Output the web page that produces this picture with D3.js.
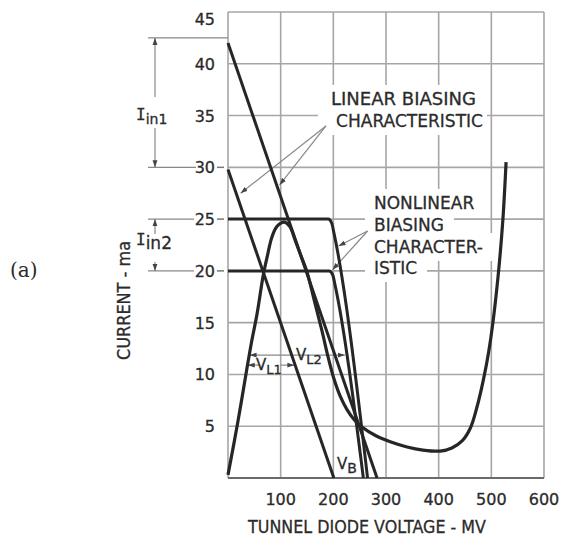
<!DOCTYPE html>
<html>
<head>
<meta charset="utf-8">
<script src="https://cdn.jsdelivr.net/npm/d3@7"></script>
<style>
body { margin: 0; background: #fff; }
svg { display: block; }
text { fill: #2b2b2b; stroke: #2b2b2b; stroke-width: 0.3px; }
</style>
</head>
<body>
<div id="chart"></div>
<script>
// values (mV, mA)
var xTicks = [100, 200, 300, 400, 500, 600];
var yTicks = [5, 10, 15, 20, 25, 30, 35, 40, 45];

var diodeVoltage = [0, 19, 36, 45, 55, 67, 75, 83, 93, 107, 117, 128, 139, 150, 164, 178, 190, 201, 213, 226, 240, 255, 280, 308, 340, 370, 403, 425, 445, 460, 473, 485, 495, 503, 514, 522, 528];
var diodeCurrent = [0.3, 5.5, 10.6, 13.2, 15.8, 19.6, 21.5, 23.2, 24.3, 24.7, 24.3, 22.9, 21.4, 19.9, 17.1, 14.3, 11.7, 9.6, 7.9, 6.6, 5.6, 4.9, 4.1, 3.5, 3.0, 2.7, 2.6, 2.9, 3.6, 4.8, 6.9, 9.5, 12.2, 15, 20.1, 25, 30.5];

var linearHighV = [0, 283];
var linearHighI = [42, 0];
var linearLowV = [0, 201];
var linearLowI = [29.8, 0];

var nonlinHighV = [0, 190, 197, 201, 265];
var nonlinHighI = [25, 25, 24.6, 23.7, 0];
var nonlinLowV = [0, 192, 199, 203, 257];
var nonlinLowI = [20, 20, 19.6, 18.7, 0];

var svgWidth = 561;
var svgHeight = 541;
var sans = "'DejaVu Sans', sans-serif";

var svg = d3.select("#chart")
    .append("svg")
    .attr("width", svgWidth)
    .attr("height", svgHeight)
    .style("font-family", sans);

var x = d3.scaleLinear().domain([0, 600]).range([228, 544]);
var y = d3.scaleLinear().domain([0, 45]).range([478, 12]);

var defs = svg.append("defs");
defs.append("marker")
    .attr("id", "arrow")
    .attr("viewBox", "0 0 10 10")
    .attr("refX", 10)
    .attr("refY", 5)
    .attr("markerWidth", 7)
    .attr("markerHeight", 7)
    .attr("markerUnits", "userSpaceOnUse")
    .attr("orient", "auto-start-reverse")
    .append("path")
    .attr("d", "M0,1.5L10,5L0,8.5Z")
    .attr("fill", "#444");

//Grid
var grid = svg.append("g");
grid.selectAll(".vgrid")
    .data(xTicks)
    .enter()
    .append("line")
    .attr("x1", d => x(d)).attr("x2", d => x(d))
    .attr("y1", y(0)).attr("y2", y(45))
    .attr("stroke", "#a6a6a6")
    .attr("stroke-width", 1.6);
grid.selectAll(".hgrid")
    .data(yTicks)
    .enter()
    .append("line")
    .attr("x1", x(0)).attr("x2", x(600))
    .attr("y1", d => y(d)).attr("y2", d => y(d))
    .attr("stroke", "#a6a6a6")
    .attr("stroke-width", 1.6);
grid.append("line")
    .attr("x1", x(0)).attr("x2", x(0))
    .attr("y1", y(0)).attr("y2", y(45))
    .attr("stroke", "#a6a6a6").attr("stroke-width", 1.6);
grid.append("line")
    .attr("x1", x(0)).attr("x2", x(600))
    .attr("y1", y(0)).attr("y2", y(0))
    .attr("stroke", "#6a6a6a").attr("stroke-width", 2);

//Tick labels
svg.selectAll(".xlabel")
    .data(xTicks)
    .enter()
    .append("text")
    .attr("x", d => x(d))
    .attr("y", 505)
    .attr("text-anchor", "middle")
    .attr("font-size", "16px")
    .text(d => d);

svg.selectAll(".ylabel")
    .data(yTicks)
    .enter()
    .append("text")
    .attr("x", 215)
    .attr("y", d => d === 45 ? y(d) + 13 : y(d) + 6)
    .attr("text-anchor", "end")
    .attr("font-size", "16px")
    .text(d => d);

//little dashes after 30, 25, 20
svg.selectAll(".ytick")
    .data([30, 25, 20])
    .enter()
    .append("line")
    .attr("x1", 217).attr("x2", 224)
    .attr("y1", d => y(d)).attr("y2", d => y(d))
    .attr("stroke", "#777").attr("stroke-width", 1.5);

//Axis titles
svg.append("text")
    .attr("x", 248)
    .attr("y", 533)
    .attr("font-size", "17px")
    .attr("textLength", 238)
    .attr("lengthAdjust", "spacingAndGlyphs")
    .text("TUNNEL DIODE VOLTAGE - MV");

svg.append("text")
    .attr("transform", "translate(130, 360) rotate(-90)")
    .attr("font-size", "17px")
    .attr("textLength", 119)
    .attr("lengthAdjust", "spacingAndGlyphs")
    .text("CURRENT - ma");

svg.append("text")
    .attr("x", 10)
    .attr("y", 277)
    .style("font-family", "'DejaVu Serif', serif")
    .style("stroke-width", "0px")
    .attr("font-size", "20px")
    .text("(a)");

//Iin1 / Iin2 dimension lines left of the axis
var dimLines = [[42.5, 228], [30, 196], [25, 194], [20, 194]];
svg.selectAll(".dim")
    .data(dimLines)
    .enter()
    .append("line")
    .attr("x1", 148).attr("x2", d => d[1])
    .attr("y1", d => y(d[0])).attr("y2", d => y(d[0]))
    .attr("stroke", "#888").attr("stroke-width", 1.3);

function arrowLine(g, x1, y1, x2, y2, width) {
    return g.append("line")
        .attr("x1", x1).attr("y1", y1)
        .attr("x2", x2).attr("y2", y2)
        .attr("stroke", "#888")
        .attr("stroke-width", width || 1.2)
        .attr("marker-end", "url(#arrow)");
}

arrowLine(svg, 155, 97, 155, y(42.5));
arrowLine(svg, 155, 128, 155, y(30));
arrowLine(svg, 155, 234, 155, y(25));
arrowLine(svg, 155, 262, 155, y(20));

function subLabel(g, px, py, main, sub, mainSize, subSize, mainFont) {
    var t = g.append("text")
        .attr("x", px)
        .attr("y", py)
        .attr("font-size", mainSize + "px");
    t.append("tspan")
        .style("font-family", mainFont || sans)
        .text(main);
    t.append("tspan")
        .attr("font-size", subSize + "px")
        .attr("dy", 4)
        .text(sub);
    return t;
}

var mono = "'DejaVu Sans Mono', monospace";
subLabel(svg, 136, 120, "I", "in1", 16, 14, mono);
subLabel(svg, 136, 245, "I", "in2", 16, 17, mono);

//White boxes + annotation text blocks
var ann = svg.append("g");
function textBlock(lines, px, baselines, lens, padL, padR) {
    lines.forEach(function(s, k) {
        var t = ann.append("text")
            .attr("x", px[k])
            .attr("y", baselines[k])
            .attr("font-size", "17px")
            .text(s);
        if (lens) {
            t.attr("textLength", lens[k]).attr("lengthAdjust", "spacingAndGlyphs");
        }
        var b = t.node().getBBox();
        ann.insert("rect", "text")
            .attr("x", b.x - padL)
            .attr("y", b.y - 4)
            .attr("width", b.width + padL + padR)
            .attr("height", b.height + 8)
            .attr("fill", "#fff");
    });
}
textBlock(["LINEAR BIASING", "CHARACTERISTIC"], [331, 336], [105, 127], [145, 147], 18, 4);
textBlock(["NONLINEAR", "BIASING", "CHARACTER-", "ISTIC"], [374, 374, 374, 374], [209, 231, 253, 274], null, 9, 10);

//leader lines
var leaders = [
    [186, 34, 24, 27.5],
    [186, 34, 98, 28.3],
    [265, 23.85, 210, 22.4],
    [265, 23.85, 198.5, 20.1]
];
leaders.forEach(function(d) {
    arrowLine(svg, x(d[0]), y(d[1]), x(d[2]), y(d[3]), 1.2);
});

//VL1, VL2 spans
arrowLine(svg, x(130), y(11.87), x(41), y(11.87));
arrowLine(svg, x(130), y(11.87), x(222), y(11.87));
arrowLine(svg, x(60), y(10.9), x(37.5), y(10.9));
arrowLine(svg, x(100), y(10.9), x(126), y(10.9));

var vl2 = subLabel(svg, 296, 360, "V", "L2", 15, 13);
var b2 = vl2.node().getBBox();
svg.insert("rect", "text")
    .attr("x", b2.x - 1).attr("y", b2.y)
    .attr("width", b2.width + 2).attr("height", b2.height)
    .attr("fill", "#fff");
vl2.raise();
var vl1 = subLabel(svg, 256, 370, "V", "L1", 15, 13);
var vb = subLabel(svg, 337, 469, "V", "B", 15, 14);

//Curves
var curves = svg.append("g");
var lineStraight = d3.line().x(d => x(d[0])).y(d => y(d[1]));
var lineSmooth = d3.line().x(d => x(d[0])).y(d => y(d[1])).curve(d3.curveMonotoneX);
var lineDiode = d3.line().x(d => x(d[0])).y(d => y(d[1])).curve(d3.curveCatmullRom.alpha(0.5));

function pairs(vs, is) {
    return vs.map((v, k) => [v, is[k]]);
}

curves.append("path")
    .attr("d", lineStraight(pairs(linearHighV, linearHighI)))
    .attr("fill", "none").attr("stroke", "#262626").attr("stroke-width", 3);
curves.append("path")
    .attr("d", lineStraight(pairs(linearLowV, linearLowI)))
    .attr("fill", "none").attr("stroke", "#262626").attr("stroke-width", 3);
curves.append("path")
    .attr("d", lineSmooth(pairs(nonlinHighV, nonlinHighI)))
    .attr("fill", "none").attr("stroke", "#262626").attr("stroke-width", 3);
curves.append("path")
    .attr("d", lineSmooth(pairs(nonlinLowV, nonlinLowI)))
    .attr("fill", "none").attr("stroke", "#262626").attr("stroke-width", 3);
curves.append("path")
    .attr("d", lineDiode(pairs(diodeVoltage, diodeCurrent)))
    .attr("fill", "none").attr("stroke", "#262626").attr("stroke-width", 3.2);
</script>
</body>
</html>
